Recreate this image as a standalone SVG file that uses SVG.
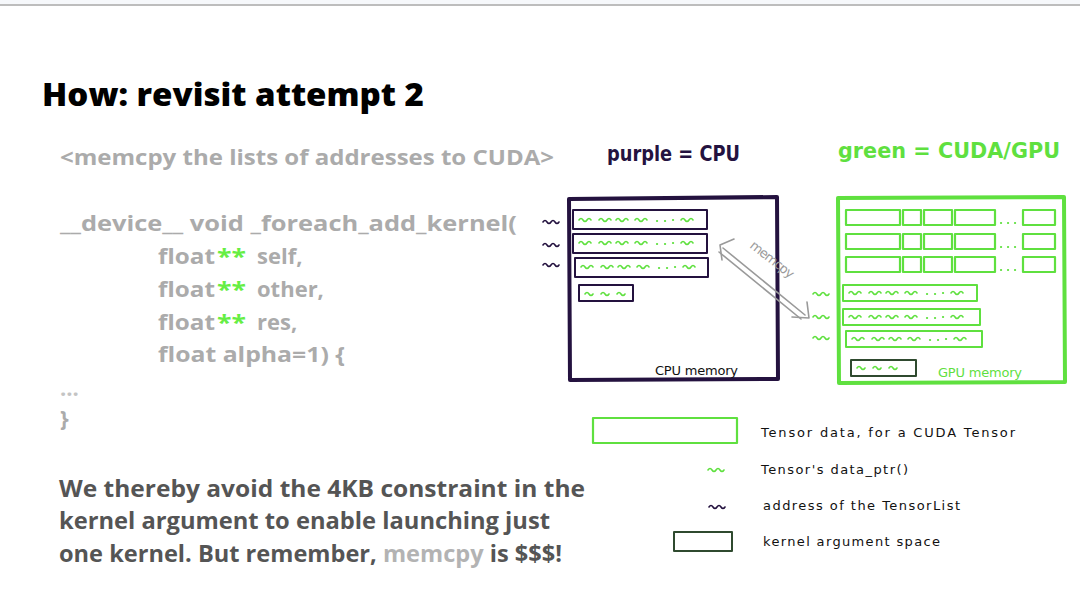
<svg xmlns="http://www.w3.org/2000/svg" xmlns:xlink="http://www.w3.org/1999/xlink" width="1080" height="604" viewBox="0 0 1080 604">
<style>
.title{font-family:"Open Sans","Liberation Sans",sans-serif;font-weight:800;font-size:31px;fill:#000}
.code{font-family:"Open Sans","Liberation Sans",sans-serif;font-weight:700;font-size:22px;fill:#ababab}
.star{fill:#66ee44}
.body{font-family:"Open Sans","Liberation Sans",sans-serif;font-weight:700;font-size:22.5px;fill:#555}
.hand{font-family:"DejaVu Sans","Liberation Sans",sans-serif;font-size:13px;fill:#111}
.hcpu{font-family:"DejaVu Sans","Liberation Sans",sans-serif;font-weight:700;font-size:21px;fill:#24123f}
.hgpu{font-family:"DejaVu Sans","Liberation Sans",sans-serif;font-weight:700;font-size:21px;fill:#5fe03f}
.cpu{fill:none;stroke:#24123f;stroke-linejoin:round;stroke-linecap:round}
.gpu{fill:none;stroke:#5fe03f;stroke-linejoin:round;stroke-linecap:round}
.kern{fill:none;stroke:#2f4a2f;stroke-width:2;stroke-linejoin:round}
.wg{fill:none;stroke:#5fe03f;stroke-width:1.6;stroke-linecap:round}
.wp{fill:none;stroke:#24123f;stroke-width:1.6;stroke-linecap:round}
.arr{fill:none;stroke:#9a9a9a;stroke-width:1.6;stroke-linecap:round;stroke-linejoin:round}
</style>
<defs>
<g id="row" class="wg">
<path d="M6,0 q2,-3 4,0 t4,0 t4,0"/>
<path d="M26,0 q2,-3 4,0 t4,0 t4,0"/>
<path d="M43,0 q2,-3 4,0 t4,0 t4,0"/>
<path d="M62,0 q2,-3 4,0 t4,0 t4,0"/>
<path d="M84,1 h0.1 M92,1 h0.1 M100,0 h0.1" stroke-width="2.2"/>
<path d="M108,0 q2,-3 4,0 t4,0 t4,0"/>
</g>
<g id="short">
<path d="M6,0 q2,-3 4,0 t4,0"/>
<path d="M22,0 q2,-3 4,0 t4,0"/>
<path d="M38,0 q2,-3 4,0 t4,0"/>
</g>
<path id="sq" d="M0,0 q2,-3 4,0 t4,0 t4,0 t4,0"/>
<g id="seg" class="gpu" stroke-width="2.2">
<rect x="0" y="0" width="54" height="15"/>
<rect x="57" y="0" width="18" height="15"/>
<rect x="78" y="0" width="28" height="15"/>
<rect x="109" y="0" width="40" height="15"/>
<path d="M155,13 h0.1 M162,13 h0.1 M169,13 h0.1" stroke-width="2.2"/>
<rect x="177" y="0" width="32" height="15"/>
</g>
</defs>

<rect x="0" y="0" width="1080" height="604" fill="#fff"/>
<rect x="0" y="0" width="1080" height="4" fill="#f6f8fb"/>
<rect x="0" y="4" width="1080" height="2" fill="#bdbdbd"/>

<g id="title"><text class="title" x="42" y="106" textLength="382" lengthAdjust="spacingAndGlyphs">How: revisit attempt 2</text></g>

<g id="code">
<text class="code" x="60" y="165" textLength="494" lengthAdjust="spacingAndGlyphs">&lt;memcpy the lists of addresses to CUDA&gt;</text>
<text class="code" x="60" y="231" textLength="457" lengthAdjust="spacingAndGlyphs">__device__ void _foreach_add_kernel(</text>
<text class="code" x="158" y="264" textLength="57" lengthAdjust="spacingAndGlyphs">float</text><text class="code star" x="217" y="264" textLength="29" lengthAdjust="spacingAndGlyphs">**</text><text class="code" x="257" y="264">self,</text>
<text class="code" x="158" y="297" textLength="57" lengthAdjust="spacingAndGlyphs">float</text><text class="code star" x="217" y="297" textLength="29" lengthAdjust="spacingAndGlyphs">**</text><text class="code" x="257" y="297">other,</text>
<text class="code" x="158" y="330" textLength="57" lengthAdjust="spacingAndGlyphs">float</text><text class="code star" x="217" y="330" textLength="29" lengthAdjust="spacingAndGlyphs">**</text><text class="code" x="257" y="330">res,</text>
<text class="code" x="158" y="362" textLength="187" lengthAdjust="spacingAndGlyphs">float alpha=1) {</text>
<text class="code" x="60" y="396" font-weight="400" font-size="18" style="fill:#c4c4c4">...</text>
<text class="code" x="60" y="426">}</text>
</g>

<g id="summary">
<text class="body" x="59" y="497" textLength="526" lengthAdjust="spacingAndGlyphs">We thereby avoid the 4KB constraint in the</text>
<text class="body" x="59" y="529" textLength="491" lengthAdjust="spacingAndGlyphs">kernel argument to enable launching just</text>
<text class="body" x="59" y="562" textLength="503" lengthAdjust="spacingAndGlyphs">one kernel. But remember, <tspan fill="#b3b3b3">memcpy</tspan> is $$$!</text>
</g>

<g id="heading-cpu"><text class="hcpu" x="607" y="161" textLength="133" lengthAdjust="spacingAndGlyphs">purple = CPU</text></g>
<g id="heading-gpu"><text class="hgpu" x="838" y="158" textLength="222" lengthAdjust="spacingAndGlyphs">green = CUDA/GPU</text></g>

<g id="cpu-memory">
<path class="cpu" stroke-width="4" d="M569,199 L777,197 L778,379 L570,380 Z"/>
<rect class="cpu" stroke-width="2" x="573" y="210" width="134" height="19"/>
<rect class="cpu" stroke-width="2" x="573" y="234" width="134" height="19"/>
<rect class="cpu" stroke-width="2" x="575" y="258" width="133" height="19"/>
<rect class="cpu" stroke-width="2" x="579" y="285" width="54" height="16"/>
<use href="#row" x="573" y="220"/>
<use href="#row" x="573" y="243"/>
<use href="#row" x="575" y="267"/>
<use href="#short" class="wg" x="579" y="294"/>
<use href="#sq" class="wp" x="543" y="222"/>
<use href="#sq" class="wp" x="543" y="245"/>
<use href="#sq" class="wp" x="543" y="265"/>
<text class="hand" x="655" y="375" font-size="12" textLength="83" lengthAdjust="spacing">CPU memory</text>
</g>

<g id="gpu-memory">
<path class="gpu" stroke-width="4" d="M838,198 L1064,197 L1065,382 L839,383 Z"/>
<use href="#seg" x="846" y="210"/>
<use href="#seg" x="846" y="234"/>
<use href="#seg" x="846" y="257"/>
<rect class="gpu" stroke-width="2" x="843" y="285" width="134" height="16"/>
<rect class="gpu" stroke-width="2" x="843" y="309" width="137" height="16"/>
<rect class="gpu" stroke-width="2" x="846" y="331" width="136" height="16"/>
<use href="#row" x="843" y="293"/>
<use href="#row" x="843" y="317"/>
<use href="#row" x="846" y="339"/>
<use href="#sq" class="wg" x="813" y="294"/>
<use href="#sq" class="wg" x="813" y="317"/>
<use href="#sq" class="wg" x="813" y="338"/>
<rect class="kern" x="851" y="360" width="65" height="16"/>
<use href="#short" class="wg" x="851" y="368"/>
<text class="hand" x="938" y="377" font-size="12" style="fill:#5fe03f" textLength="84" lengthAdjust="spacing">GPU memory</text>
</g>

<g id="connectors">
<path class="arr" d="M723,248 L805,315 M719,252 L801,319"/>
<path class="arr" d="M734,239 L720,245 L722,260"/>
<path class="arr" d="M792,317 L809,318 L807,302"/>
<text class="hand" x="0" y="0" font-size="11" style="fill:#9a9a9a" transform="translate(749,247) rotate(38)" textLength="52" lengthAdjust="spacing">memcpy</text>
</g>

<g id="legend">
<rect class="gpu" stroke-width="2.2" x="593" y="418" width="144" height="25"/>
<text class="hand" x="761" y="437" textLength="254" lengthAdjust="spacing">Tensor data, for a CUDA Tensor</text>
<use href="#sq" class="wg" x="708" y="470"/>
<text class="hand" x="761" y="474" textLength="147" lengthAdjust="spacing">Tensor's data_ptr()</text>
<use href="#sq" class="wp" x="709" y="507"/>
<text class="hand" x="763" y="510" textLength="197" lengthAdjust="spacing">address of the TensorList</text>
<rect class="kern" x="674" y="532" width="58" height="19"/>
<text class="hand" x="763" y="546" textLength="177" lengthAdjust="spacing">kernel argument space</text>
</g>
</svg>
